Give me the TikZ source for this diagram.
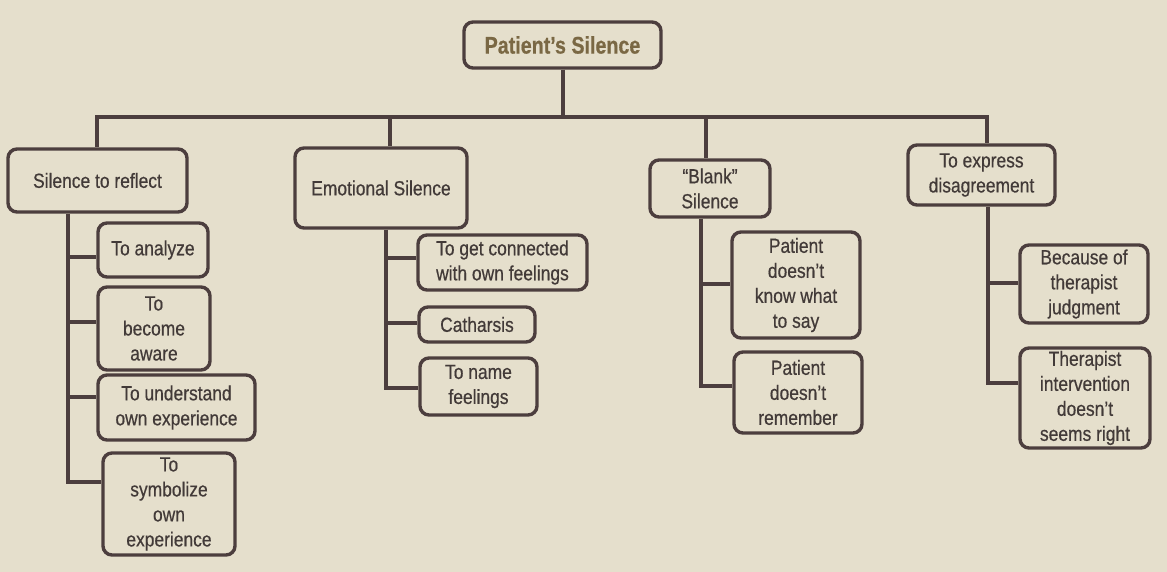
\documentclass[tikz,border=0pt]{standalone}
\usepackage{fontspec}
\setmainfont{Liberation Sans}[FakeStretch=0.85, FakeBold=0.5]
\newfontfamily\headfont{Liberation Sans}[FakeStretch=0.82, FakeBold=0.6]
\usetikzlibrary{calc}
\definecolor{paper}{RGB}{229,223,204}
\definecolor{ink}{RGB}{76,62,62}
\definecolor{txt}{RGB}{66,58,56}
\definecolor{titlec}{RGB}{122,104,68}
\begin{document}
\begin{tikzpicture}[x=1pt,y=-1pt,
  box/.style={draw=ink, line width=3.4pt, rounded corners=9pt, fill=paper,
    inner sep=0pt, align=center, text=txt,
    font=\fontsize{20.5}{25}\selectfont},
  link/.style={draw=ink, line width=3.4pt}]
\fill[paper] (0,0) rectangle (1167,572);
\useasboundingbox (0,0) rectangle (1167,572);

% root
\node[box, minimum width=197pt, minimum height=46pt, text=titlec,
  font=\fontsize{24}{28}\headfont\bfseries] (root) at (562.5,45) {Patient’s Silence};

% branches
\node[box, minimum width=179pt, minimum height=63pt] (b1) at (97.5,180.5) {Silence to reflect};
\node[box, minimum width=172pt, minimum height=80pt] (b2) at (381,188) {Emotional Silence};
\node[box, minimum width=120pt, minimum height=57pt] (b3) at (710,188.5) {“Blank”\\Silence};
\node[box, minimum width=147pt, minimum height=60pt] (b4) at (981.5,175) {To express\\disagreement};

% leaves of branch 1
\node[box, minimum width=110pt, minimum height=54pt] (a1) at (153,250) {To analyze};
\node[box, minimum width=112pt, minimum height=83pt] (a2) at (154,328.5) {To\\become\\aware};
\node[box, minimum width=157pt, minimum height=65pt] (a3) at (176.5,407.5) {To understand\\own experience};
\node[box, minimum width=132pt, minimum height=102pt] (a4) at (169,504) {To\\symbolize\\own\\experience};

% leaves of branch 2
\node[box, minimum width=169pt, minimum height=55pt] (e1) at (502.5,262.5) {To get connected\\with own feelings};
\node[box, minimum width=116pt, minimum height=35pt] (e2) at (477,324.5) {Catharsis};
\node[box, minimum width=117pt, minimum height=57pt] (e3) at (478.5,386.5) {To name\\feelings};

% leaves of branch 3
\node[box, minimum width=128pt, minimum height=106pt] (k1) at (796,285) {Patient\\doesn’t\\know what\\to say};
\node[box, minimum width=128pt, minimum height=81pt] (k2) at (798,392.5) {Patient\\doesn’t\\remember};

% leaves of branch 4
\node[box, minimum width=128pt, minimum height=78pt] (d1) at (1084,284) {Because of\\therapist\\judgment};
\node[box, minimum width=130pt, minimum height=100pt] (d2) at (1085,398) {Therapist\\intervention\\doesn’t\\seems right};

% bus from the root to the four branches
\coordinate (bus) at (563,117);
\coordinate (t1) at (97,117);
\coordinate (t2) at (390,117);
\coordinate (t3) at (706,117);
\coordinate (t4) at (987,117);
\draw[link] (root.south -| bus) -- (bus);
\draw[link, line cap=rect] (t1) -- (t4);
\draw[link] (t1) -- (t1 |- b1.north);
\draw[link] (t2) -- (t2 |- b2.north);
\draw[link] (t3) -- (t3 |- b3.north);
\draw[link] (t4) -- (t4 |- b4.north);

% spines under each branch
\coordinate (s1) at (68,0);
\coordinate (s2) at (386,0);
\coordinate (s3) at (701,0);
\coordinate (s4) at (988,0);

\draw[link] (s1 |- b1.south) |- ($(a4.west)+(0,-22)$);
\draw[link] ($(s1 |- a1.west)+(0,7)$) -- ($(a1.west)+(0,7)$);
\draw[link] ($(s1 |- a2.west)+(0,-6.5)$) -- ($(a2.west)+(0,-6.5)$);
\draw[link] ($(s1 |- a3.west)+(0,-10.5)$) -- ($(a3.west)+(0,-10.5)$);

\draw[link] (s2 |- b2.south) |- ($(e3.west)+(0,1.5)$);
\draw[link] ($(s2 |- e1.west)+(0,-4.5)$) -- ($(e1.west)+(0,-4.5)$);
\draw[link] ($(s2 |- e2.west)+(0,-1.5)$) -- ($(e2.west)+(0,-1.5)$);

\draw[link] (s3 |- b3.south) |- ($(k2.west)+(0,-6.5)$);
\draw[link] ($(s3 |- k1.west)+(0,-1)$) -- ($(k1.west)+(0,-1)$);

\draw[link] (s4 |- b4.south) |- ($(d2.west)+(0,-15)$);
\draw[link] ($(s4 |- d1.west)+(0,-1)$) -- ($(d1.west)+(0,-1)$);
\end{tikzpicture}
\end{document}
